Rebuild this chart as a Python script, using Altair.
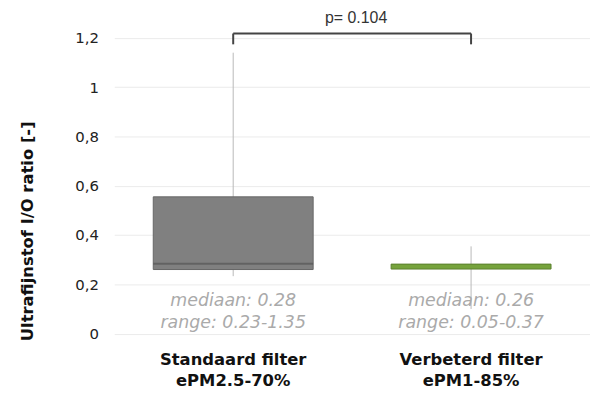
import altair as alt
import pandas as pd

# ---- data ----
categories = ["Standaard filter\nePM2.5-70%", "Verbeterd filter\nePM1-85%"]
whisker_low = [0.233, 0.10]
q1 = [0.26, 0.262]
median = [0.283, 0.272]
q3 = [0.555, 0.282]
whisker_high = [1.14, 0.354]
fills = ["#808080", "#76a33c"]
strokes = ["#666666", "#5b7f2e"]
median_text = ["mediaan: 0.28", "mediaan: 0.26"]
range_text = ["range: 0.23-1.35", "range: 0.05-0.37"]
p_text = "p= 0.104"
bracket_level = 1.218
bracket_foot = 1.174
y_ticks = [0, 0.2, 0.4, 0.6, 0.8, 1.0, 1.2]

df = pd.DataFrame({
    "cat": categories,
    "lo": whisker_low,
    "q1": q1,
    "med": median,
    "q3": q3,
    "hi": whisker_high,
    "fill": fills,
    "stroke": strokes,
    "mtxt": median_text,
    "rtxt": range_text,
})

bracket_df = pd.DataFrame({
    "a": [categories[0]], "b": [categories[1]],
    "lvl": [bracket_level], "foot": [bracket_foot], "p": [p_text],
})
feet_df = pd.DataFrame({"cat": categories, "lvl": [bracket_level] * 2, "foot": [bracket_foot] * 2})

FONT = "DejaVu Sans"

x_enc = alt.X(
    "cat:N", sort=categories, title=None,
    scale=alt.Scale(paddingInner=0, paddingOuter=0),
    axis=alt.Axis(
        labelExpr="split(datum.label, '\\n')", labelAngle=0, labelFont=FONT,
        labelFontSize=16.5, labelFontWeight="bold", labelColor="#111111",
        labelLineHeight=21, labelPadding=18, domain=False, ticks=False, grid=False,
    ),
)
y_scale = alt.Scale(domain=[0, 1.3], nice=False)
y_enc = alt.Y(
    "lo:Q", scale=y_scale, title="Ultrafijnstof I/O ratio [-]",
    axis=alt.Axis(
        values=y_ticks, labelExpr="replace(format(datum.value, '.1~f'), '.', ',')",
        labelFont=FONT, labelFontSize=15, labelColor="#222222", labelPadding=16,
        domain=False, ticks=False, gridColor="#ebebeb", gridWidth=1,
        titleFont=FONT, titleFontSize=16.5, titleFontWeight="bold", titleColor="#111111",
        titleAngle=270, titleX=-87, titleY=219, titleAlign="center", titleBaseline="middle",
    ),
)

base = alt.Chart(df)

whisker = base.mark_rule(color="#b8b8b8", strokeWidth=1).encode(
    x=x_enc, y=y_enc, y2="hi:Q"
)
box = base.mark_bar(size=161, strokeWidth=1).encode(
    x=alt.X("cat:N", sort=categories), y=alt.Y("q1:Q", scale=y_scale), y2="q3:Q",
    fill=alt.Fill("fill:N", scale=None), stroke=alt.Stroke("stroke:N", scale=None),
)
med = alt.Chart(df.iloc[[0]]).mark_tick(size=161, thickness=2, color="#555555").encode(
    x=alt.X("cat:N", sort=categories), y=alt.Y("med:Q", scale=y_scale)
)
t1 = base.mark_text(font=FONT, fontSize=17.5, fontStyle="italic", color="#aaaaaa",
                    baseline="middle", dy=-33).encode(
    x=alt.X("cat:N", sort=categories), y=alt.Y("datum_zero:Q", scale=y_scale), text="mtxt:N"
).transform_calculate(datum_zero="0")
t2 = base.mark_text(font=FONT, fontSize=17.5, fontStyle="italic", color="#aaaaaa",
                    baseline="middle", dy=-11).encode(
    x=alt.X("cat:N", sort=categories), y=alt.Y("datum_zero:Q", scale=y_scale), text="rtxt:N"
).transform_calculate(datum_zero="0")

bracket = alt.Chart(bracket_df).mark_rule(color="#444444", strokeWidth=2).encode(
    x=alt.X("a:N", sort=categories), x2="b:N", y=alt.Y("lvl:Q", scale=y_scale)
)
feet = alt.Chart(feet_df).mark_rule(color="#444444", strokeWidth=2).encode(
    x=alt.X("cat:N", sort=categories), y=alt.Y("lvl:Q", scale=y_scale), y2="foot:Q"
)
ptxt = alt.Chart(bracket_df).mark_text(font="Liberation Sans", fontSize=16, color="#333333",
                                       baseline="middle", dx=4, dy=-16).encode(
    x=alt.value(239.5), y=alt.Y("lvl:Q", scale=y_scale), text="p:N"
)

chart = alt.layer(whisker, box, med, t1, t2, bracket, feet, ptxt).properties(
    width=479, height=322.5,
    autosize=alt.AutoSizeParams(type="none"),
    padding={"left": 107, "top": 4, "right": 0, "bottom": 60},
).configure_view(stroke=None)

chart.save("out.html", embed_options={"renderer": "svg", "actions": False})
